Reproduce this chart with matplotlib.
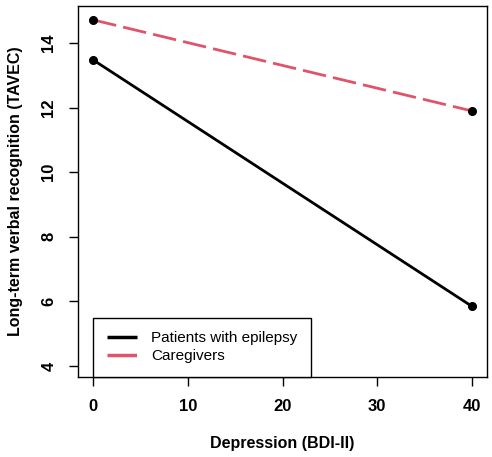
import matplotlib
matplotlib.use("Agg")
import matplotlib.pyplot as plt

plt.rcParams['font.family'] = ['Liberation Sans', 'DejaVu Sans']

depression = [0, 40]
epilepsy = [13.48, 5.85]
caregivers = [14.72, 11.90]
xticks = [0, 10, 20, 30, 40]
yticks = [4, 6, 8, 10, 12, 14]

red = '#DF536B'

fig = plt.figure(figsize=(4.92, 4.57), dpi=100)
ax = fig.add_axes([78/492, 1 - 377/457, 409/492, 371/457])

ax.plot(depression, epilepsy, color='black', lw=2.0, label='Patients with epilepsy', solid_capstyle='butt')
ax.plot(depression, caregivers, color=red, lw=2.0, dashes=(8.5, 2.6), label='Caregivers')
ax.plot(depression, epilepsy, 'o', color='black', ms=5.5)
ax.plot(depression, caregivers, 'o', color='black', ms=5.5)

ax.set_xlim(-1.6, 41.6)
ax.set_ylim(3.66, 15.15)
ax.set_xticks(xticks)
ax.set_yticks(yticks)
ax.set_xticklabels([str(v) for v in xticks], fontsize=12, fontweight='bold')
ax.set_yticklabels([str(v) for v in yticks], fontsize=12, fontweight='bold', rotation=90, va='center')
ax.tick_params(length=6.5, width=1, pad=9)

for s in ax.spines.values():
    s.set_linewidth(1.0)

ax.set_xlabel('Depression (BDI-II)', fontsize=11.5, fontweight='bold', labelpad=16)
ax.set_ylabel('Long-term verbal recognition (TAVEC)', fontsize=11.5, fontweight='bold', labelpad=13)

leg = ax.legend(loc='lower left', bbox_to_anchor=(15/409, 0), borderaxespad=0,
                fontsize=11, fancybox=False, edgecolor='black', framealpha=1,
                handlelength=2.0, handletextpad=0.9, borderpad=0.9, labelspacing=0.25)
leg.get_frame().set_linewidth(1.0)
for h in leg.get_lines():
    h.set_linewidth(2.5)

fig.savefig('out.png', dpi=100)
